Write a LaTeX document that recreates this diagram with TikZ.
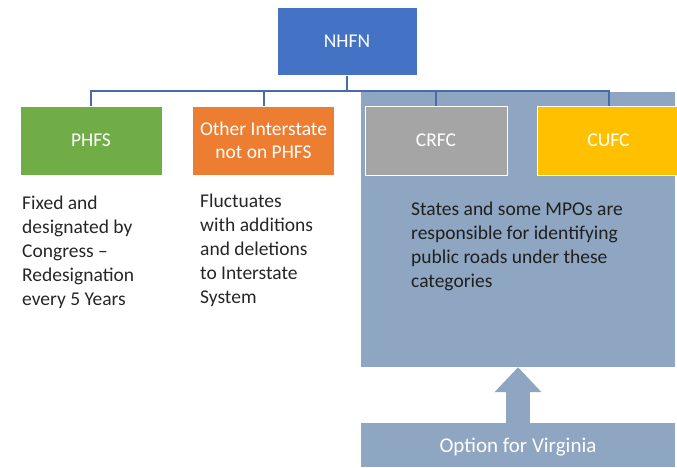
\documentclass[tikz,border=0pt]{standalone}
\usepackage{fontspec}
\setmainfont{Carlito}
\usepackage{xcolor}
\usetikzlibrary{arrows.meta,positioning}

\definecolor{nhfnblue}{HTML}{4472C4}
\definecolor{phfsgreen}{HTML}{70AD47}
\definecolor{isorange}{HTML}{ED7D31}
\definecolor{crfcgray}{HTML}{A5A5A5}
\definecolor{cufcgold}{HTML}{FFC000}
\definecolor{zoneblue}{HTML}{8EA6C2}
\definecolor{linkblue}{HTML}{4A6BA8}
\definecolor{ink}{HTML}{262626}

\begin{document}
\begin{tikzpicture}[x=1pt, y=-1pt, node distance=29.5pt,
  box/.style={rectangle, draw=white, line width=1pt, text=white, align=center,
              minimum width=142pt, minimum height=69pt, inner sep=0pt,
              font=\fontsize{19.5}{23}\selectfont},
  note/.style={anchor=north west, align=left, inner sep=0pt, text=ink,
               font=\fontsize{19.5}{24}\selectfont},
  link/.style={draw=linkblue, line width=2pt},
  zone/.style={rectangle, fill=zoneblue, inner sep=0pt},
  lift/.style={-{Triangle[width=45.5pt,length=25pt]}, line width=23.5pt, draw=zoneblue}]
  \useasboundingbox (0,0) rectangle (677,467);

  % shaded area behind the two categories the states pick
  \node[zone, minimum width=314pt, minimum height=275pt] (zone) at (518,229.5) {};
  \node[zone, minimum width=314pt, minimum height=44pt, text=white, text depth=0pt,
        font=\fontsize{21}{25}\selectfont] (opt) at (518,445) {Option for Virginia};
  \draw[lift] (opt.north) -- (zone.south);

  \node[box, fill=nhfnblue, minimum width=140pt, minimum height=68pt] (nhfn) at (347,41) {NHFN};
  \node[box, fill=phfsgreen] (phfs)                    at (91,140.5) {PHFS};
  \node[box, fill=isorange]  (other) [right=of phfs]  {Other Interstate\\not on PHFS};
  \node[box, fill=crfcgray]  (crfc)  [right=of other] {CRFC};
  \node[box, fill=cufcgold]  (cufc)  [right=of crfc]  {CUFC};

  \draw[link] (nhfn.south) -- ++(0,15) -| (phfs.north);
  \draw[link] (nhfn.south) -- ++(0,15) -| (other.north);
  \draw[link] (nhfn.south) -- ++(0,15) -| (crfc.north);
  \draw[link] (nhfn.south) -- ++(0,15) -| (cufc.north);

  \node[note] (fixed) at (22,196)  {Fixed and\\designated by\\Congress --\\Redesignation\\every 5 Years};
  \node[note] (flux)  at (200,194) {Fluctuates\\with additions\\and deletions\\to Interstate\\System};
  \node[note, text=black!88] (states) at (411,202)
    {States and some MPOs are\\responsible for identifying\\public roads under these\\categories};
\end{tikzpicture}
\end{document}
